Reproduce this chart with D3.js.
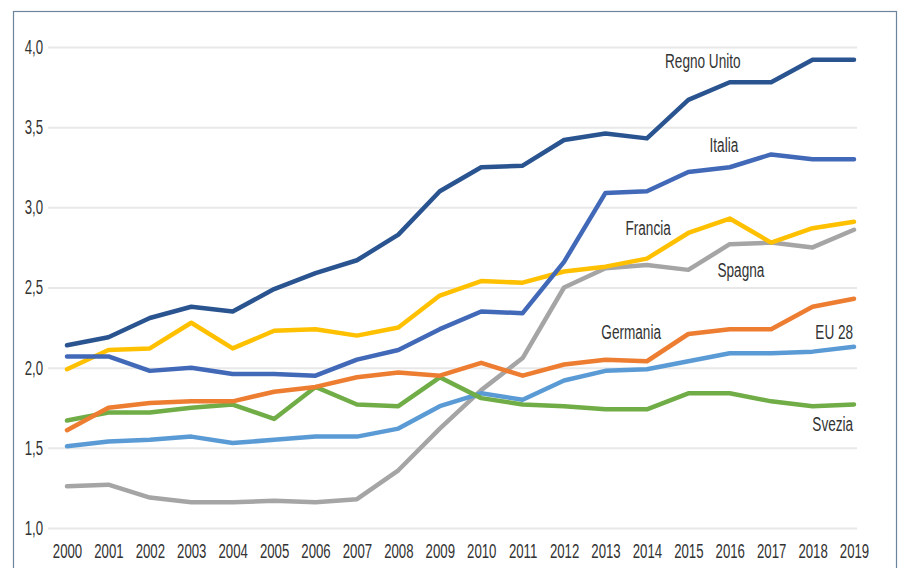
<!DOCTYPE html>
<html>
<head>
<meta charset="utf-8">
<script src="https://cdn.jsdelivr.net/npm/d3@7"></script>
<style>
  body { margin: 0; background: #fff; }
  text { font-family: "Liberation Sans", Arial, sans-serif; fill: #333; }
</style>
</head>
<body>
<svg width="898" height="568"></svg>
<script>
var years = d3.range(2000, 2020);
var yTicks = [1.0, 1.5, 2.0, 2.5, 3.0, 3.5, 4.0];

var regnoUnito = [2.14, 2.19, 2.31, 2.38, 2.35, 2.49, 2.59, 2.67, 2.83, 3.10, 3.25, 3.26, 3.42, 3.46, 3.43, 3.67, 3.78, 3.78, 3.92, 3.92];
var italia     = [2.07, 2.07, 1.98, 2.00, 1.96, 1.96, 1.95, 2.05, 2.11, 2.24, 2.35, 2.34, 2.66, 3.09, 3.10, 3.22, 3.25, 3.33, 3.30, 3.30];
var francia    = [1.99, 2.11, 2.12, 2.28, 2.12, 2.23, 2.24, 2.20, 2.25, 2.45, 2.54, 2.53, 2.60, 2.63, 2.68, 2.84, 2.93, 2.78, 2.87, 2.91];
var spagna     = [1.26, 1.27, 1.19, 1.16, 1.16, 1.17, 1.16, 1.18, 1.36, 1.62, 1.86, 2.06, 2.50, 2.62, 2.64, 2.61, 2.77, 2.78, 2.75, 2.86];
var germania   = [1.61, 1.75, 1.78, 1.79, 1.79, 1.85, 1.88, 1.94, 1.97, 1.95, 2.03, 1.95, 2.02, 2.05, 2.04, 2.21, 2.24, 2.24, 2.38, 2.43];
var eu28       = [1.51, 1.54, 1.55, 1.57, 1.53, 1.55, 1.57, 1.57, 1.62, 1.76, 1.84, 1.80, 1.92, 1.98, 1.99, 2.04, 2.09, 2.09, 2.10, 2.13];
var svezia     = [1.67, 1.72, 1.72, 1.75, 1.77, 1.68, 1.88, 1.77, 1.76, 1.94, 1.81, 1.77, 1.76, 1.74, 1.74, 1.84, 1.84, 1.79, 1.76, 1.77];

var series = [
  {name: "Spagna", values: spagna, color: "#a5a5a5"},
  {name: "EU 28", values: eu28, color: "#5b9bd5"},
  {name: "Svezia", values: svezia, color: "#70ad47"},
  {name: "Germania", values: germania, color: "#ed7d31"},
  {name: "Francia", values: francia, color: "#ffc000"},
  {name: "Italia", values: italia, color: "#4169b8"},
  {name: "Regno Unito", values: regnoUnito, color: "#2a5490"}
];

// where each series name sits, in data terms
var labels = [
  {name: "Regno Unito", year: 2015.35, value: 3.91, anchor: "middle"},
  {name: "Italia", year: 2015.86, value: 3.39, anchor: "middle"},
  {name: "Francia", year: 2014.03, value: 2.87, anchor: "middle"},
  {name: "Spagna", year: 2016.27, value: 2.61, anchor: "middle"},
  {name: "Germania", year: 2013.62, value: 2.22, anchor: "middle"},
  {name: "EU 28", year: 2018.98, value: 2.22, anchor: "end"},
  {name: "Svezia", year: 2018.98, value: 1.65, anchor: "end"}
];

var svg = d3.select("svg");

var x = d3.scaleLinear().domain([2000, 2019]).range([67, 854]);
var y = d3.scaleLinear().domain([1, 4]).range([528, 47]);

var itFormat = d3.formatLocale({decimal: ",", thousands: ".", grouping: [3], currency: ["", "€"]}).format(".1f");

// squeeze text sideways, the original uses a condensed face
function condense(sel, k) {
  sel.each(function() {
    var w = this.getComputedTextLength();
    d3.select(this).attr("textLength", w * k).attr("lengthAdjust", "spacingAndGlyphs");
  });
}

// frame
svg.append("rect")
    .attr("x", 13.5).attr("y", 11.5)
    .attr("width", 883).attr("height", 580)
    .attr("fill", "none")
    .attr("stroke", "#6c849c")
    .attr("stroke-width", 1.2);

// y axis with gridlines
var yAxis = svg.append("g")
    .attr("transform", "translate(48,0)")
    .call(d3.axisLeft(y).tickValues(yTicks).tickFormat(itFormat).tickSize(-809).tickPadding(5));
yAxis.select(".domain").remove();
yAxis.selectAll(".tick line").attr("stroke", "#e8e8e8").attr("stroke-width", 2);
yAxis.selectAll(".tick text").attr("font-size", 20).attr("fill", "#333").call(condense, 0.66);

// x axis
var xAxis = svg.append("g")
    .attr("transform", "translate(0,528)")
    .call(d3.axisBottom(x).tickValues(years).tickFormat(d3.format("d")).tickSize(0).tickPadding(16));
xAxis.select(".domain").remove();
xAxis.selectAll(".tick text").attr("font-size", 20).attr("fill", "#333").call(condense, 0.66);

var line = d3.line()
    .x(function(d, i) { return x(years[i]); })
    .y(function(d) { return y(d); });

svg.append("g").selectAll("path")
    .data(series)
  .enter().append("path")
    .attr("d", function(d) { return line(d.values); })
    .attr("fill", "none")
    .attr("stroke", function(d) { return d.color; })
    .attr("stroke-width", 4.5)
    .attr("stroke-linejoin", "round")
    .attr("stroke-linecap", "round");

svg.append("g").selectAll("text")
    .data(labels)
  .enter().append("text")
    .attr("x", function(d) { return x(d.year); })
    .attr("y", function(d) { return y(d.value); })
    .attr("dy", "0.35em")
    .attr("text-anchor", function(d) { return d.anchor; })
    .attr("font-size", 20)
    .text(function(d) { return d.name; })
    .call(condense, 0.68);
</script>
</body>
</html>
